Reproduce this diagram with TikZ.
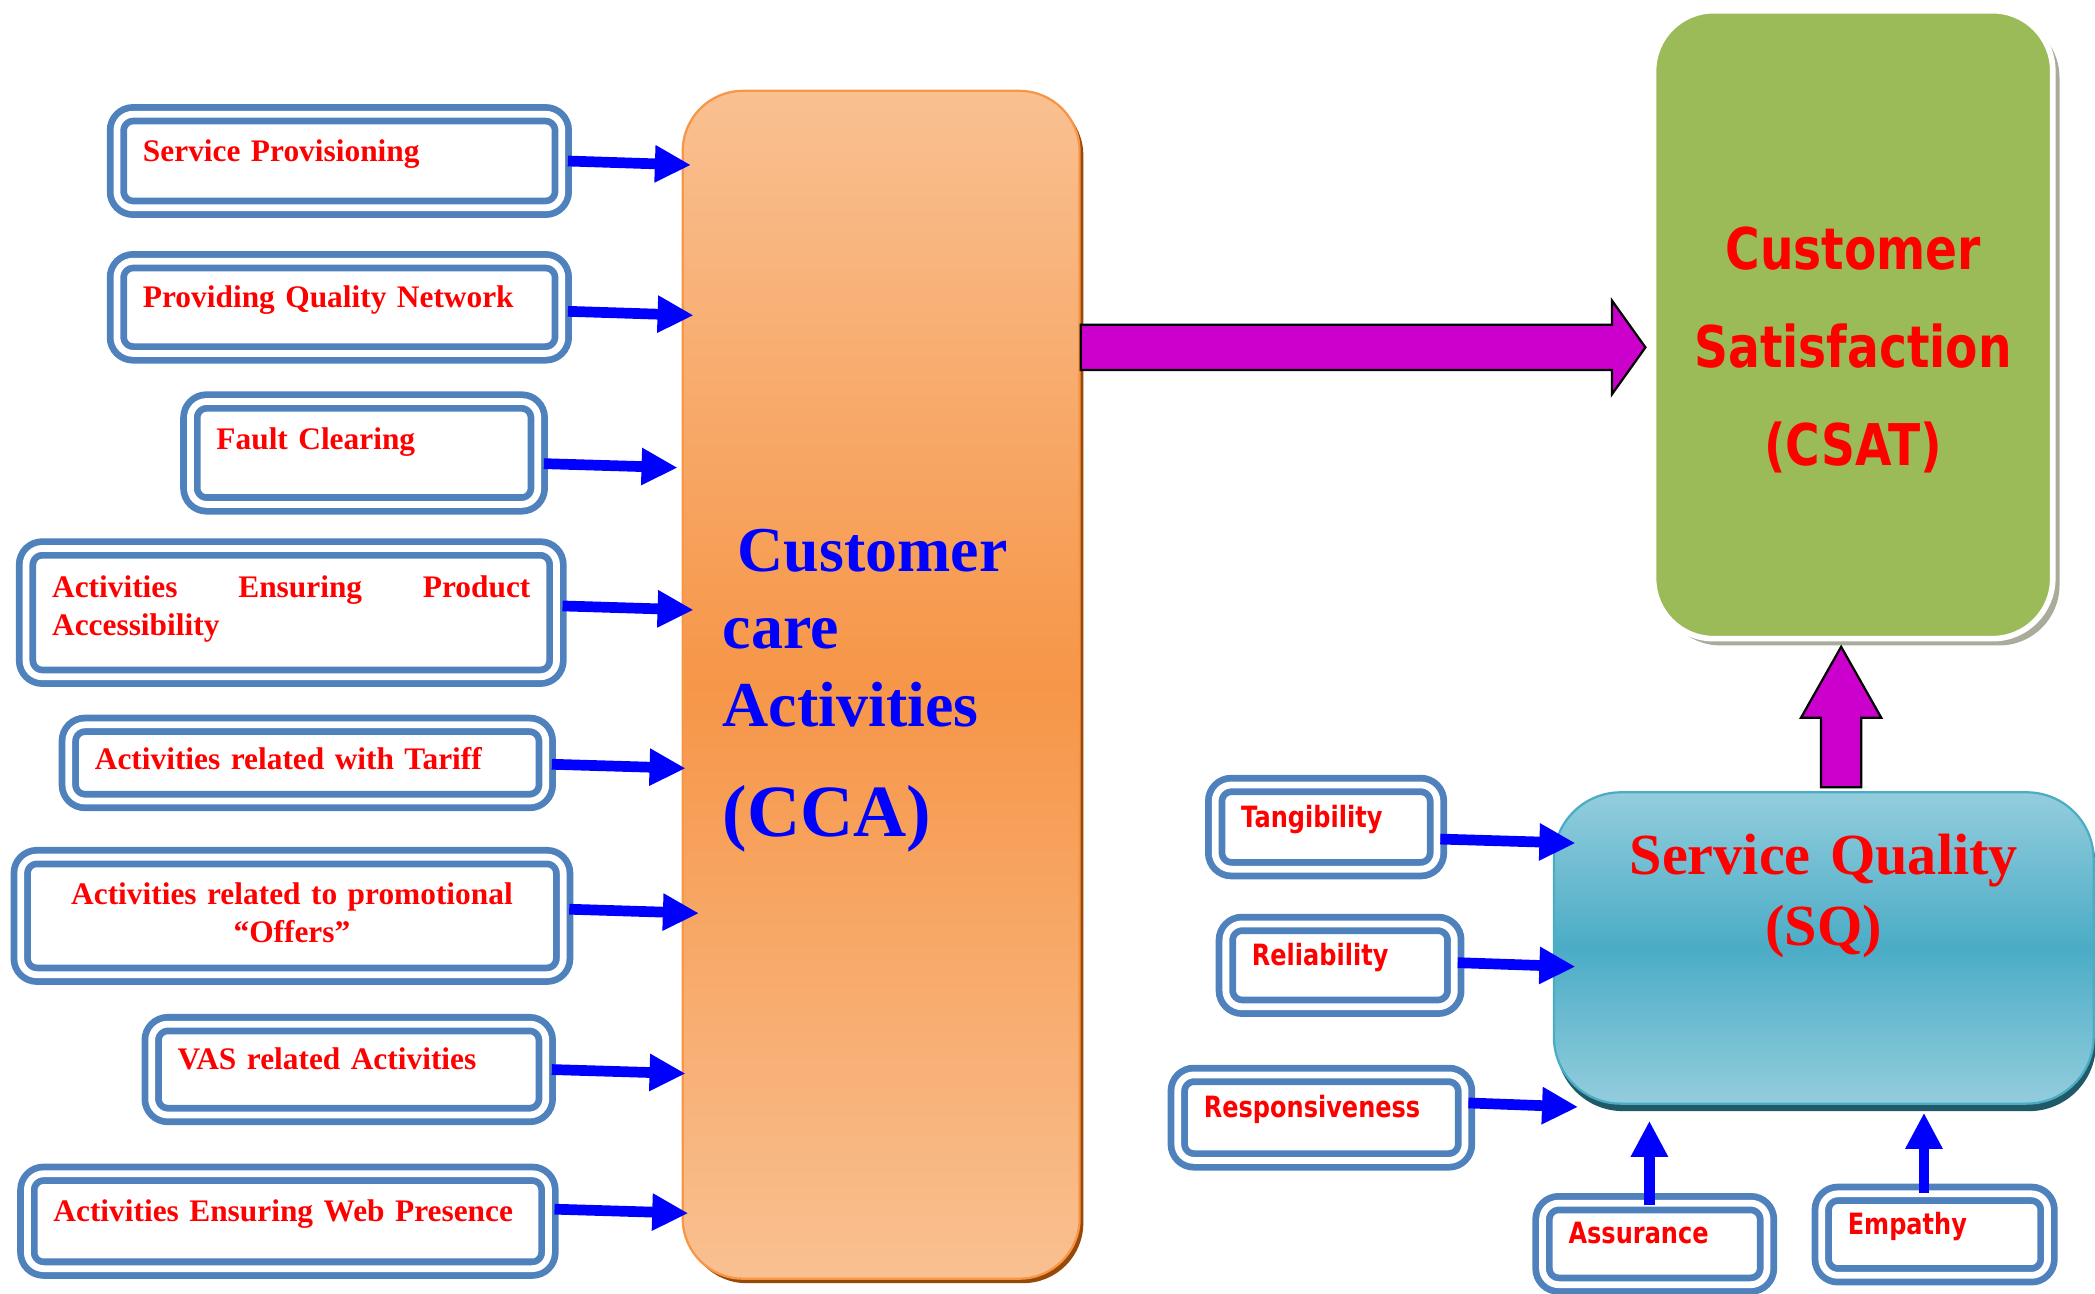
\documentclass[tikz,border=0pt]{standalone}
\usepackage{fontspec}
\setmainfont{Liberation Serif}
\newfontfamily\sqsans[FakeStretch=0.82]{DejaVu Sans}
\usetikzlibrary{arrows.meta,calc,shadows}
\definecolor{boxblue}{HTML}{4F81BD}
\definecolor{arrblue}{HTML}{0000FF}
\definecolor{labred}{HTML}{FF0000}
\definecolor{ccalight}{HTML}{F9C091}
\definecolor{ccadark}{HTML}{F69648}
\definecolor{ccaedge}{HTML}{F79646}
\definecolor{ccashade}{HTML}{984807}
\definecolor{sqlight}{HTML}{93CDDD}
\definecolor{sqdark}{HTML}{4BACC6}
\definecolor{sqshade}{HTML}{215968}
\definecolor{csatgreen}{HTML}{9BBB59}
\definecolor{csatshade}{HTML}{A9AC9A}
\definecolor{fatmag}{HTML}{CC00CC}
\newcommand\px{0.0125cm}

\begin{document}
\begin{tikzpicture}[x=\px, y=-\px,
  lbox/.style={draw=boxblue, line width=1.8pt, double=white, double distance=1.8pt, rounded corners=4.3pt, fill=white, align=left, inner xsep=19.5*\px, inner ysep=0pt, text=labred, text height=3pt, text depth=3pt, font=\fontsize{8.35}{10}\selectfont\bfseries},
  sbox/.style={lbox, font=\sqsans\fontsize{7.8}{9.4}\selectfont\bfseries},
  cca/.style={rounded corners=16pt, draw=ccaedge, line width=0.6pt, top color=ccalight, bottom color=ccalight, middle color=ccadark, minimum width=297*\px, minimum height=889*\px, drop shadow={shadow xshift=1pt, shadow yshift=-1.2pt, fill=ccashade, opacity=1}, text width=237*\px, inner xsep=30*\px, align=left, text=blue, text height=0pt, text depth=60.4pt, font=\fontsize{17}{20.6}\selectfont\bfseries},
  sq/.style={rounded corners=17.8pt, draw=sqdark, line width=0.6pt, top color=sqlight, bottom color=sqlight, middle color=sqdark, minimum width=404*\px, minimum height=233*\px, drop shadow={shadow xshift=0.6pt, shadow yshift=-2pt, fill=sqshade, opacity=1}, align=center, text width=380*\px, text=labred, text height=0pt, text depth=39.2pt, font=\fontsize{15.5}{18.9}\selectfont\bfseries},
  csat/.style={rounded corners=16pt, fill=csatgreen, draw=white, line width=1.5pt, minimum width=296*\px, minimum height=470*\px, drop shadow={shadow xshift=1.8pt, shadow yshift=-1.8pt, fill=csatshade, opacity=1}, align=center, text width=280*\px, text=labred, text height=0pt, text depth=29.2pt, font=\sqsans\fontsize{15.3}{26}\selectfont\bfseries},
  barrow/.style={draw=arrblue, line width=2.85pt, -{Triangle[length=9.6pt, width=9.3pt]}},
  fatarrow/.style={fill=fatmag, draw=black, line width=0.6pt, line join=miter}]
\useasboundingbox (0,0) rectangle (1568,968);

% left inputs
\node[lbox, text width=294*\px, minimum height=70*\px] (sp) at (254,120.5) {Service Provisioning};
\node[lbox, text width=294*\px, minimum height=69*\px] (pqn) at (254,230) {Providing Quality Network};
\node[lbox, text width=221*\px, minimum height=77*\px, text depth=5pt] (fc) at (272.5,339) {Fault Clearing};
\node[lbox, text width=358*\px, minimum height=96*\px, text depth=11pt] (aep) at (218,458.5) {\hbox to \hsize{Activities\hfill Ensuring\hfill Product}\\Accessibility};
\node[lbox, text width=318*\px, minimum height=57*\px, text height=5pt, text depth=1.5pt] (art) at (230,571) {Activities related with Tariff};
\node[lbox, align=center, text width=367*\px, minimum height=88*\px, text depth=9pt] (arp) at (218.5,685.5) {Activities related to promotional\\“Offers”};
\node[lbox, text width=256*\px, minimum height=68*\px] (vas) at (261,800.5) {VAS related Activities};
\node[lbox, text width=351*\px, minimum height=71*\px] (web) at (215.5,914) {Activities Ensuring Web Presence};

% main blocks
\node[cca] (cca) at (659.5,512.5) {\hspace*{4pt}Customer\\care\\Activities\\[8.9pt]{\fontsize{19.6}{24}\selectfont(CCA)}};
\node[csat] (csat) at (1387,243) {Customer\\Satisfaction\\(CSAT)};
\node[sq] (sq) at (1365,709.5) {Service Quality\\(SQ)};

% SQ dimensions
\node[sbox, text width=127*\px, minimum height=63*\px] (tan) at (992.5,619) {Tangibility};
\node[sbox, text width=132*\px, minimum height=62*\px] (rel) at (1003,722.5) {Reliability};
\node[sbox, text width=176*\px, minimum height=64*\px] (res) at (989,836.5) {Responsiveness};
\node[sbox, text width=129*\px, minimum height=61*\px] (asu) at (1238.5,931) {Assurance};
\node[sbox, text width=130*\px, minimum height=61*\px] (emp) at (1448,924) {Empathy};

% arrows
\foreach \n/\sy/\dx in {sp/0/7, pqn/3/9, fc/8/-3, aep/-5/9, art/1/3, arp/-5/13, vas/0/3, web/-9/5}
  \draw[barrow] ($(\n.east)+(2,\sy)$) -- ($(\n.east -| cca.west)+(\dx,\sy+3)$);
\foreach \n/\sy/\dx in {tan/9/17, rel/-2/17, res/-11/19}
  \draw[barrow] ($(\n.east)+(0,\sy)$) -- ($(\n.east -| sq.west)+(\dx,\sy+3)$);
\draw[barrow] ($(asu.north)+(-4,4)$) -- ($(asu.north |- sq.south)+(-4,12)$);
\draw[barrow] ($(emp.north)+(-8,2)$) -- ($(emp.north |- sq.south)+(-8,6)$);

\coordinate (mb) at ($(csat.west)+(-4,17)$);
\coordinate (ma) at (cca.east |- mb);
\draw[fatarrow] ($(ma)+(0,-17)$) -- ($(mb)+(-25,-17)$) -- ($(mb)+(-25,-35)$) -- (mb) -- ($(mb)+(-25,35)$) -- ($(mb)+(-25,17)$) -- ($(ma)+(0,17)$) -- cycle;
\coordinate (ub) at ($(csat.south)+(-9,4)$);
\coordinate (ua) at ($(ub |- sq.north)+(0,-3)$);
\draw[fatarrow] ($(ua)+(-15,0)$) -- ($(ub)+(-15,53)$) -- ($(ub)+(-30,53)$) -- (ub) -- ($(ub)+(30,53)$) -- ($(ub)+(15,53)$) -- ($(ua)+(15,0)$) -- cycle;
\end{tikzpicture}
\end{document}
